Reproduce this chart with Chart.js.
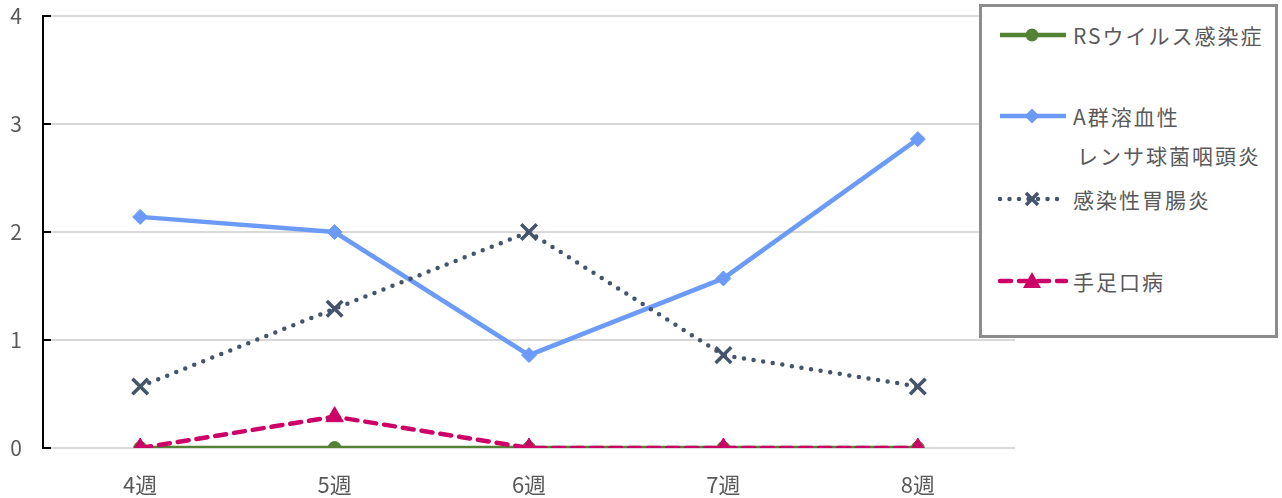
<!DOCTYPE html>
<html lang="ja">
<head>
<meta charset="UTF-8">
<title>週別 感染症 定点当たり報告数</title>
<script src="https://cdn.jsdelivr.net/npm/chart.js"></script>
<style>
  body { margin: 0; background: #fff; font-family: "Noto Sans CJK JP", "Noto Sans", sans-serif; }
  #wrap { position: relative; width: 1282px; height: 498px; }
  #legend {
    position: absolute; left: 979px; top: 4px; width: 293px; height: 328px;
    border: 3px solid #8c8c8c; background: #fff;
  }
  .item { position: absolute; left: 15px; display: flex; align-items: center; }
  .item svg { flex: none; }
  .item span { margin-left: 4px; font-size: 21px; color: #595959; letter-spacing: 2px; white-space: nowrap; }
  .sub { position: absolute; left: 95px; font-size: 21px; color: #595959; letter-spacing: 2px; white-space: nowrap; }
</style>
</head>
<body>
<div id="wrap">
  <canvas id="chart" width="1282" height="498"></canvas>
  <div id="legend"></div>
</div>
<script>
// 週
const weeks = ["4週", "5週", "6週", "7週", "8週"];
// 定点当たり報告数
const rsVirus = [0, 0, 0, 0, 0];
const groupAStrep = [2.14, 2.00, 0.86, 1.57, 2.86];
const gastroenteritis = [0.57, 1.29, 2.00, 0.86, 0.57];
const handFootMouth = [0, 0.29, 0, 0, 0];
const yTicks = [0, 1, 2, 3, 4];

const seriesNames = ["RSウイルス感染症", "A群溶血性レンサ球菌咽頭炎", "感染性胃腸炎", "手足口病"];
const colors = ["#548235", "#6b9bf7", "#44546a", "#cc0066"];

// y軸の内側の目盛り
const innerTicks = {
  id: "innerTicks",
  afterDatasetsDraw(chart) {
    const y = chart.scales.y, ctx = chart.ctx, left = chart.chartArea.left;
    ctx.save();
    ctx.strokeStyle = "#000";
    ctx.lineWidth = 2;
    yTicks.forEach(v => {
      const p = y.getPixelForValue(v);
      ctx.beginPath();
      ctx.moveTo(left, p);
      ctx.lineTo(left + 8, p);
      ctx.stroke();
    });
    ctx.restore();
  }
};

new Chart(document.getElementById("chart"), {
  type: "line",
  data: {
    labels: weeks,
    datasets: [
      {
        label: seriesNames[0], data: rsVirus, order: 4,
        borderColor: colors[0], backgroundColor: colors[0], borderWidth: 4.5,
        pointStyle: "circle", pointRadius: 6.5, pointBorderWidth: 1
      },
      {
        label: seriesNames[1], data: groupAStrep, order: 3,
        borderColor: colors[1], backgroundColor: colors[1], borderWidth: 4.5,
        pointStyle: "rectRot", pointRadius: 7.5, pointBorderWidth: 1
      },
      {
        label: seriesNames[2], data: gastroenteritis, order: 2,
        borderColor: colors[2], backgroundColor: colors[2], borderWidth: 4.5,
        borderDash: [0, 9.7], borderCapStyle: "round",
        pointStyle: "crossRot", pointRadius: 11, pointBorderWidth: 3.5
      },
      {
        label: seriesNames[3], data: handFootMouth, order: 1,
        borderColor: colors[3], backgroundColor: colors[3], borderWidth: 4.5,
        borderDash: [11, 8], borderCapStyle: "round",
        pointStyle: "triangle", pointRadius: 10, pointBorderWidth: 1
      }
    ]
  },
  options: {
    responsive: false,
    animation: false,
    layout: { padding: { left: 0, top: 16, right: 267, bottom: 0 } },
    plugins: { legend: { display: false }, tooltip: { enabled: false } },
    scales: {
      x: {
        offset: true,
        grid: { display: false },
        border: { display: false },
        ticks: { color: "#595959", font: { size: 22, family: "Noto Sans CJK JP" }, padding: 15 },
        afterFit(scale) { scale.height = 50; }
      },
      y: {
        min: 0, max: 4,
        afterBuildTicks(scale) { scale.ticks = yTicks.map(v => ({ value: v })); },
        grid: { color: "#d9d9d9", lineWidth: 2, drawTicks: false },
        border: { color: "#000", width: 2 },
        ticks: { color: "#595959", font: { size: 21, family: "Noto Sans CJK JP" }, padding: 21 },
        afterFit(scale) {
          scale.width = 43;
          scale.paddingTop = 0;
          scale.paddingBottom = 0;
        }
      }
    }
  },
  plugins: [innerTicks]
});

// 凡例
const legendRows = [
  { top: 13, dash: "", marker: "circle" },
  { top: 94, dash: "", marker: "diamond" },
  { top: 177, dash: "0 9.5", marker: "cross" },
  { top: 259, dash: "11 8", marker: "triangle" }
];
const legendNames = ["RSウイルス感染症", "A群溶血性", "感染性胃腸炎", "手足口病"];

function markerSvg(kind, c) {
  if (kind === "circle") return `<circle cx="35" cy="10" r="6.5" fill="${c}"/>`;
  if (kind === "diamond") return `<polygon points="35,2.5 42.5,10 35,17.5 27.5,10" fill="${c}"/>`;
  if (kind === "cross") return `<path d="M29 4 L41 16 M41 4 L29 16" stroke="${c}" stroke-width="3.5"/>`;
  return `<polygon points="35,1 44,17 26,17" fill="${c}"/>`;
}

const legend = document.getElementById("legend");
legendRows.forEach((r, i) => {
  const c = colors[i];
  const item = document.createElement("div");
  item.className = "item";
  item.style.top = r.top + "px";
  const cap = r.dash ? "round" : "butt";
  item.innerHTML =
    `<svg width="72" height="20"><line x1="3" y1="10" x2="69" y2="10" stroke="${c}" stroke-width="4.5" stroke-dasharray="${r.dash}" stroke-linecap="${cap}"/>${markerSvg(r.marker, c)}</svg>` +
    `<span>${legendNames[i]}</span>`;
  legend.appendChild(item);
});
const sub = document.createElement("div");
sub.className = "sub";
sub.style.top = "133px";
sub.textContent = "レンサ球菌咽頭炎";
legend.appendChild(sub);
</script>
</body>
</html>
